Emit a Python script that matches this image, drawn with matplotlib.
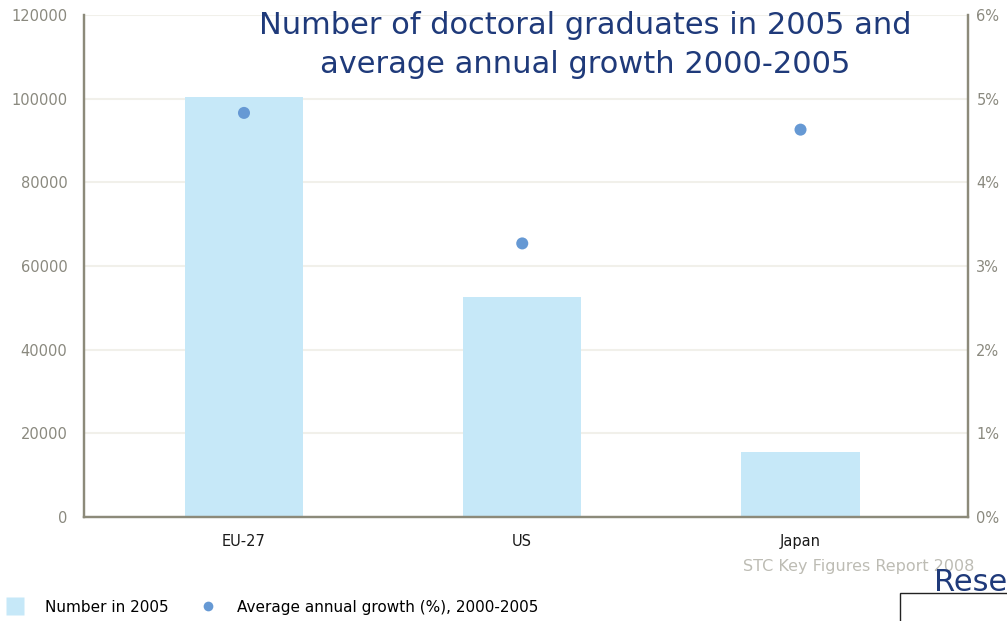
import matplotlib
matplotlib.use("Agg")
import matplotlib.pyplot as plt
from matplotlib.patches import Rectangle
from matplotlib.lines import Line2D

# doctoral graduates, 2005, and average annual growth 2000-2005
regions = ["EU-27", "US", "Japan"]
graduates_2005 = [100500, 52600, 15500]
growth_pct = [4.83, 3.27, 4.63]

left_ticks = [0, 20000, 40000, 60000, 80000, 100000, 120000]
right_ticks = [0, 1, 2, 3, 4, 5, 6]

BAR_COLOR = "#c6e8f8"
DOT_COLOR = "#6699d4"
SPINE_COLOR = "#8c8a7a"
TICK_COLOR = "#8a897f"
GRID_COLOR = "#f1f0ea"
TITLE_COLOR = "#1f3a7a"

plt.rcParams["font.family"] = ["DejaVu Sans"]

fig = plt.figure(figsize=(10.07, 6.21), dpi=100)
ax = fig.add_axes([0.0834, 0.1675, 0.8779, 0.8083])
ax2 = ax.twinx()

xs = list(range(len(regions)))
ax.bar(xs, graduates_2005, width=0.425, color=BAR_COLOR, zorder=2)
ax2.scatter(xs, growth_pct, s=75, color=DOT_COLOR, edgecolors="none", zorder=3)

ax.set_xlim(-0.575, 2.602)
ax.set_ylim(0, 120000)
ax2.set_ylim(0, 6)
ax.set_yticks(left_ticks)
ax.set_yticklabels([str(v) for v in left_ticks])
ax2.set_yticks(right_ticks)
ax2.set_yticklabels([f"{v}%" for v in right_ticks])
ax.set_xticks(xs)
ax.set_xticklabels(regions)

ax.yaxis.grid(True, color=GRID_COLOR, linewidth=1.5, zorder=0)
ax.set_axisbelow(True)

for a in (ax, ax2):
    a.spines["top"].set_visible(False)
    for side in ("left", "right", "bottom"):
        a.spines[side].set_color(SPINE_COLOR)
        a.spines[side].set_linewidth(1.6)
ax.tick_params(axis="y", length=0, pad=12, labelsize=10.5, labelcolor=TICK_COLOR)
ax2.tick_params(axis="y", length=0, pad=6, labelsize=10.5, labelcolor=TICK_COLOR)
ax.tick_params(axis="x", length=0, pad=12, labelsize=10.5, labelcolor="#1a1a1a")

fig.text(0.581, 0.983, "Number of doctoral graduates in 2005 and\naverage annual growth 2000-2005",
         ha="center", va="top", fontsize=22, color=TITLE_COLOR, linespacing=1.45)

fig.text(0.8525, 0.087, "STC Key Figures Report 2008", ha="center", va="center",
         fontsize=11.5, color="#bdbcb4")
fig.text(0.928, 0.062, "Rese", ha="left", va="center", fontsize=22, color=TITLE_COLOR)
fig.patches.append(Rectangle((0.894, -0.05), 0.2, 0.095, transform=fig.transFigure,
                             fill=False, edgecolor="#222222", linewidth=1.0))

handles = [
    Line2D([], [], marker="s", linestyle="none", markersize=13,
           markerfacecolor=BAR_COLOR, markeredgecolor="none"),
    Line2D([], [], marker="o", linestyle="none", markersize=7,
           markerfacecolor=DOT_COLOR, markeredgecolor="none"),
]
fig.legend(handles, ["Number in 2005", "Average annual growth (%), 2000-2005"],
           loc="lower left", bbox_to_anchor=(-0.01, -0.012), ncol=2, frameon=False,
           fontsize=11, handletextpad=1.2, columnspacing=1.8, handlelength=1.5)

fig.savefig("out.png", dpi=100)
